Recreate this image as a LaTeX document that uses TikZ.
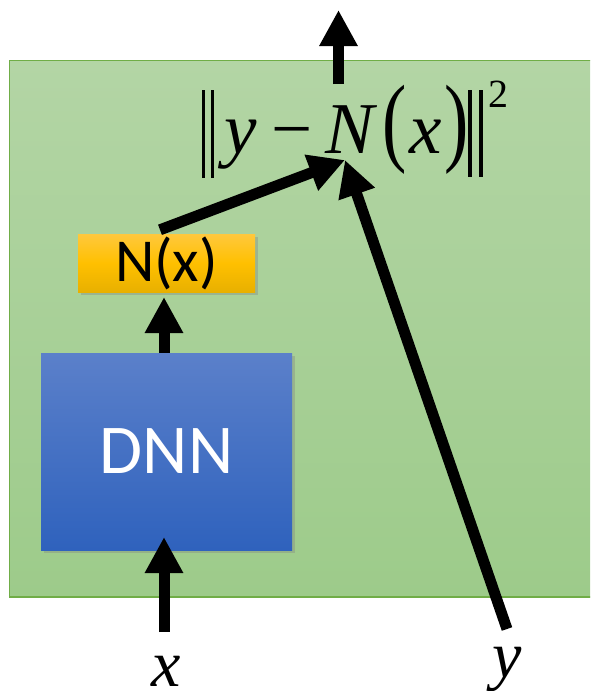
\documentclass[tikz,border=0pt]{standalone}
\usepackage{fontspec}
\setmainfont{Liberation Serif}
\newfontfamily\calib{Carlito}
\usetikzlibrary{arrows.meta,shadows}
\definecolor{gtop}{HTML}{B3D5A5}
\definecolor{gbot}{HTML}{9DCB8A}
\definecolor{gline}{HTML}{70AD47}
\definecolor{btop}{HTML}{5B80CA}
\definecolor{bbot}{HTML}{2F62BD}
\definecolor{otop}{HTML}{FFC83D}
\definecolor{omid}{HTML}{FFC000}
\definecolor{obot}{HTML}{E8B000}
\tikzset{
  panelbox/.style={draw=gline, line width=1.5pt, top color=gtop, bottom color=gbot, inner sep=0, minimum width=592pt, minimum height=536.5pt},
  dnnbox/.style={top color=btop, bottom color=bbot, inner sep=0, minimum width=251pt, minimum height=197pt,
    drop shadow={shadow xshift=3pt, shadow yshift=-3pt, opacity=0.35}, text=white, font=\calib\fontsize{70}{70}\selectfont},
  nxbox/.style={top color=otop, bottom color=obot, middle color=omid, inner sep=0, minimum width=177pt, minimum height=58pt,
    drop shadow={shadow xshift=3pt, shadow yshift=-3pt, opacity=0.35}, font=\calib\fontsize{61}{61}\selectfont},
  fm/.style={inner sep=0, anchor=base, font=\fontsize{73}{73}\selectfont},
  lbl/.style={inner sep=0, anchor=base, font=\fontsize{66}{66}\selectfont},
  fat/.style={line width=11pt, -{Triangle[width=36pt,length=36pt]}},
}
\begin{document}
\begin{tikzpicture}[x=1pt,y=-1pt]
\useasboundingbox (0,0) rectangle (590,691);
\clip (0,0) rectangle (590,691);
% panel
\node[panelbox] (panel) at (305.5,328.75) {};
% boxes
\node[dnnbox] (dnn) at (166.5,451.5) {DNN};
\node[nxbox] (nx) at (166.5,263) {N(x)};
% formula
\fill (201.7,90) rectangle (205,178);
\fill (210.7,90) rectangle (214,178);
\node[fm] (fy) at (241,153) {\itshape y};
\node[fm] (fminus) at (292,153) {−};
\node[fm] (fN) at (350,153) {\itshape N};
\node[fm] (fl) at (395,153) {\scalebox{1}[1.35]{(}};
\node[fm] (fx) at (426,153) {\itshape x};
\node[fm] (fr) at (457,153) {\scalebox{1}[1.35]{)}};
\fill (468.3,90) rectangle (471.7,177);
\fill (479.3,90) rectangle (483,177);
\node[inner sep=0, anchor=base, font=\fontsize{40}{40}\selectfont] (f2) at (498.5,107) {2};
% labels
\node[lbl] (lx) at (166,686) {\itshape x};
\node[lbl] (ly) at (507,677) {\itshape y};
% coordinates
\coordinate (tip) at (345,160);
\coordinate (outtop) at (338.5,10);
\coordinate (outbot) at (338.5,84);
\coordinate (xin) at (164,632);
\coordinate (yin) at (507,629);
% arrows
\draw[fat] (xin) -- (164,537);
\draw[fat] (dnn.north -| xin) -- (164,297);
\draw[fat] ([xshift=-6.5pt,yshift=4pt]nx.north) -- (tip);
\draw[fat] (yin) -- (tip);
\draw[fat] (outbot) -- (outtop);
\end{tikzpicture}
\end{document}
